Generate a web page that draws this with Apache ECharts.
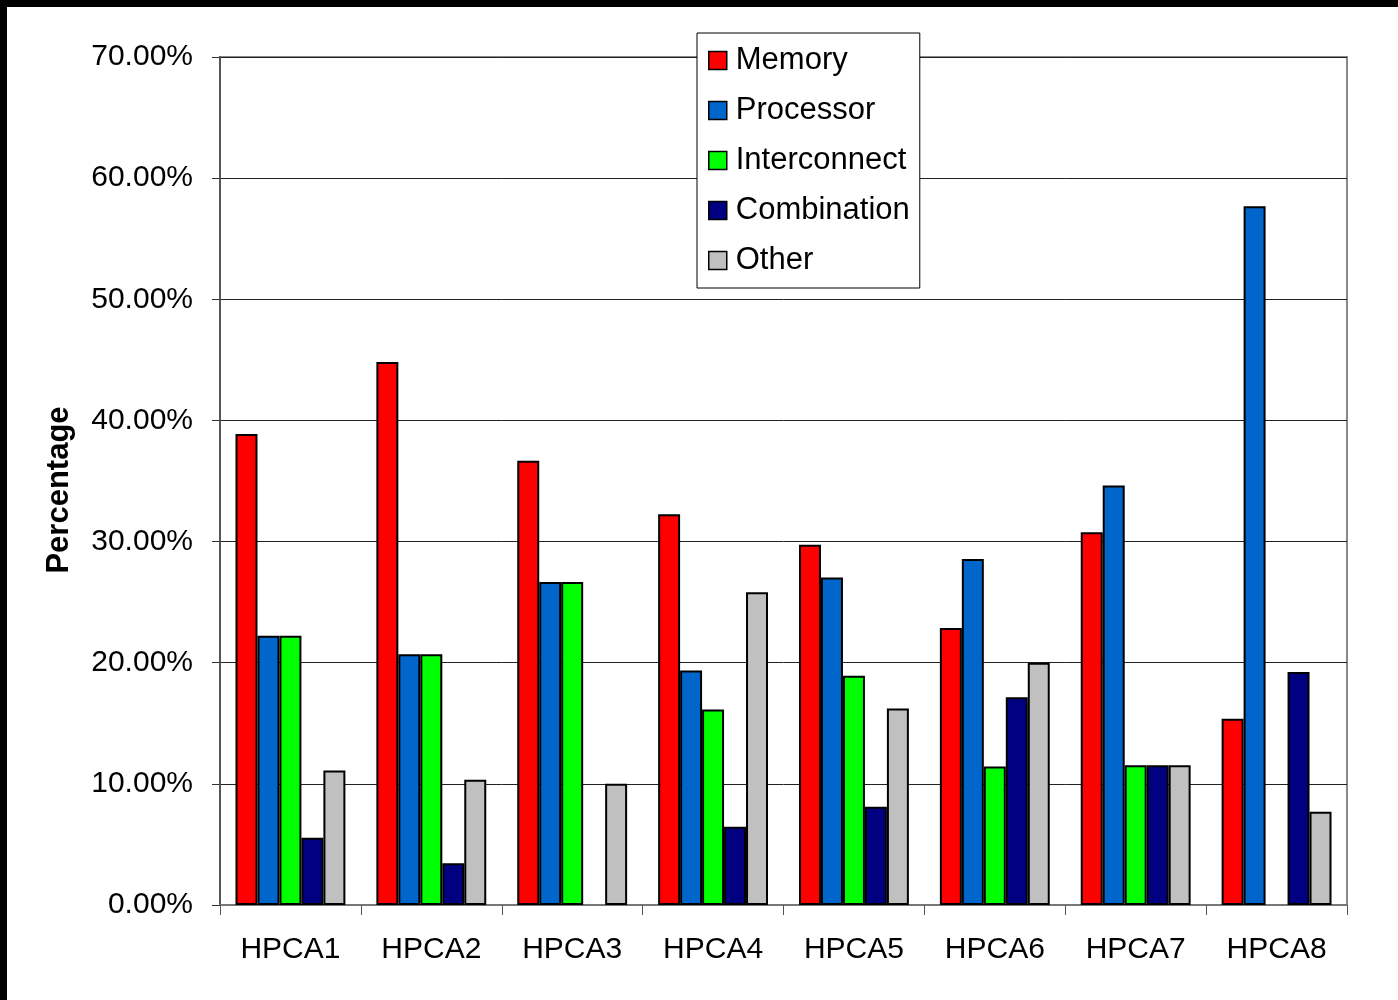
<!DOCTYPE html>
<html>
<head>
<meta charset="utf-8">
<script src="https://cdn.jsdelivr.net/npm/echarts@6/dist/echarts.min.js"></script>
<style>
  html, body { margin: 0; padding: 0; background: #000; }
  #chart { position: absolute; left: 7px; top: 7px; width: 1391px; height: 993px; background: #fff; }
</style>
</head>
<body>
<div id="chart"></div>
<script>
// Share of failures by cause for each HPCA system (percent)
const categories = ['HPCA1', 'HPCA2', 'HPCA3', 'HPCA4', 'HPCA5', 'HPCA6', 'HPCA7', 'HPCA8'];
const memory       = [38.89, 44.83, 36.67, 32.26, 29.73, 22.86, 30.77, 15.38];
const processor    = [22.22, 20.69, 26.67, 19.35, 27.03, 28.57, 34.62, 57.69];
const interconnect = [22.22, 20.69, 26.67, 16.13, 18.92, 11.43, 11.54, 0];
const combination  = [5.56, 3.45, 0, 6.45, 8.11, 17.14, 11.54, 19.23];
const other        = [11.11, 10.34, 10.00, 25.81, 16.22, 20.00, 11.54, 7.69];
const yTicks = [0, 10, 20, 30, 40, 50, 60, 70];

const seriesDefs = [
  { name: 'Memory', data: memory, color: '#FF0000' },
  { name: 'Processor', data: processor, color: '#0066CC' },
  { name: 'Interconnect', data: interconnect, color: '#00FF00' },
  { name: 'Combination', data: combination, color: '#000080' },
  { name: 'Other', data: other, color: '#C0C0C0' }
];

const FONT = '"Liberation Sans", Arial, sans-serif';
const chart = echarts.init(document.getElementById('chart'), null, { renderer: 'canvas' });

// zero-height bars get no outline so they leave an empty slot
const toBarData = arr => arr.map(v => v === 0 ? { value: v, itemStyle: { borderWidth: 0 } } : v);

chart.setOption({
  animation: false,
  backgroundColor: '#ffffff',
  textStyle: { fontFamily: FONT },
  grid: {
    left: 213, top: 50, right: 51, bottom: 95,
    show: true, borderColor: '#8a8a8a', borderWidth: 2, backgroundColor: 'transparent'
  },
  legend: {
    orient: 'vertical',
    left: 690, top: 26,
    padding: [12, 10, 12, 11],
    backgroundColor: '#ffffff',
    borderColor: '#000000',
    borderWidth: 1,
    itemWidth: 18, itemHeight: 18,
    itemGap: 19,
    icon: 'rect',
    itemStyle: { borderColor: '#000', borderWidth: 1.5 },
    textStyle: { fontFamily: FONT, fontSize: 31, color: '#000', padding: [0, 0, 0, 4] },
    data: seriesDefs.map(s => s.name)
  },
  xAxis: {
    type: 'category',
    data: categories,
    axisLine: { lineStyle: { color: '#777', width: 2 } },
    axisTick: { show: true, length: 10, inside: false, lineStyle: { color: '#555', width: 1 } },
    axisLabel: { fontFamily: FONT, fontSize: 30, color: '#000', margin: 30 },
    splitLine: { show: false }
  },
  yAxis: {
    type: 'value',
    min: yTicks[0], max: yTicks[yTicks.length - 1], interval: 10,
    name: 'Percentage',
    nameLocation: 'middle',
    nameGap: 145,
    nameTextStyle: {
      fontFamily: FONT, fontSize: 31, fontWeight: 'bold', color: '#000',
      padding: [0, 18, 0, 0]
    },
    axisLine: { show: true, lineStyle: { color: '#555', width: 2 } },
    axisTick: { show: true, length: 8, inside: false, lineStyle: { color: '#333', width: 1 } },
    axisLabel: {
      fontFamily: FONT, fontSize: 30, color: '#000', margin: 27,
      formatter: v => v.toFixed(2) + '%'
    },
    splitLine: { show: true, lineStyle: { color: '#222', width: 1 } }
  },
  series: seriesDefs.map(s => ({
    name: s.name,
    type: 'bar',
    data: toBarData(s.data),
    barGap: '0%',
    barCategoryGap: '22%',
    itemStyle: { color: s.color, borderColor: '#000', borderWidth: 2 }
  }))
});
</script>
</body>
</html>
